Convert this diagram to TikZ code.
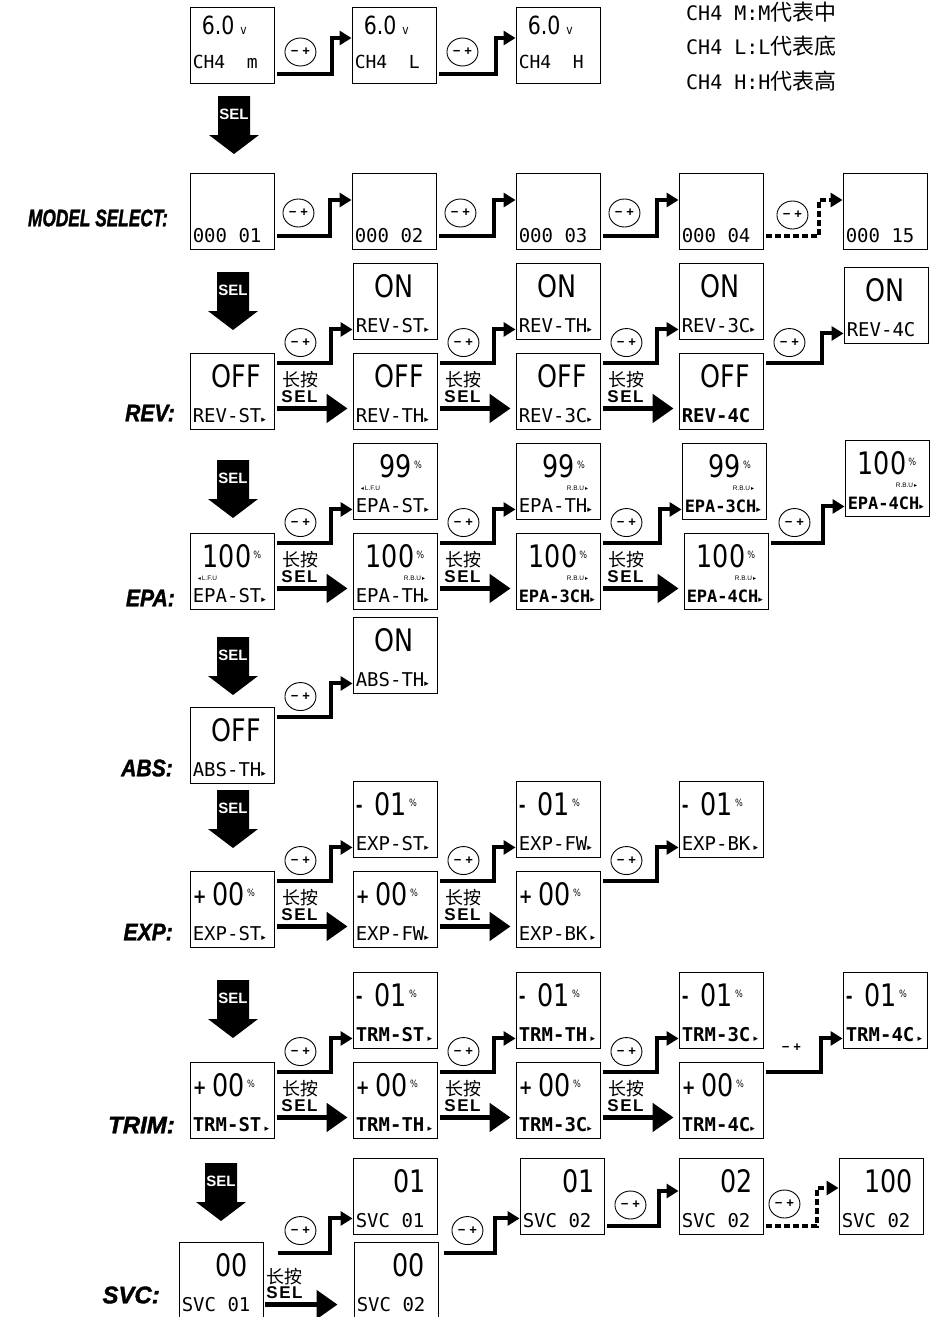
\documentclass[tikz,border=0pt]{standalone}
\usepackage{fontspec}
\setmainfont{Liberation Sans}
\newfontfamily\lcdfont[FakeStretch=0.82]{DejaVu Sans}
\newfontfamily\lcdmono{DejaVu Sans Mono}
\newfontfamily\cjk{Noto Sans CJK SC}
\newfontfamily\symf{DejaVu Sans}
\newfontfamily\lblfont[BoldItalicFeatures={FakeBold=1.6}]{Liberation Sans}
\usetikzlibrary{arrows.meta,calc,shapes.geometric}
\newcommand\rtri{{\symf\fontsize{9}{9}\selectfont▸}}
\newcommand\ltri{{\symf\fontsize{6}{6}\selectfont◂}}
\newcommand\pct{\kern2pt\raisebox{9pt}{\fontsize{10}{10}\selectfont\%}}
\newcommand\pmtxt{\textbf{−}\hspace{4pt}\textbf{+}}
\newcommand\boldlab[1]{{\bfseries\fontsize{17}{17}\selectfont #1}}
\newcommand\minusone{\makebox[19pt][l]{\bfseries\fontsize{20}{20}\selectfont\raisebox{3pt}{-}}01\pct}
\newcommand\plusnil{\makebox[20pt][l]{\bfseries\fontsize{20}{20}\selectfont\raisebox{2pt}{+}}00\pct}
\newcommand\lcdbox[4]{%
  \node[lcd] (#1) at #2 {};
  \node[lcdval] (#1-v) at ($(#1.north west)+(3,35)$) {#3};
  \node[lcdlab] (#1-l) at ($(#1.south west)+(3,-7)$) {#4};}
\tikzset{
  lcd/.style={draw, line width=0.9pt, minimum width=84pt, minimum height=76pt, inner sep=0pt},
  lcdval/.style={anchor=base west, inner sep=0pt, text width=80pt, align=left, font=\lcdfont\fontsize{31}{31}\selectfont},
  lcdlab/.style={anchor=base west, inner sep=0pt, font=\lcdmono\fontsize{19}{19}\selectfont},
  aux/.style={inner sep=0pt, font=\fontsize{6.5}{6.5}\selectfont},
  stepline/.style={line width=4pt, -{Triangle[length=12pt,width=14pt]}},
  dashline/.style={dash pattern=on 6pt off 3pt},
  lpline/.style={line width=5pt, -{Triangle[length=21pt,width=28pt]}},
  pmbtn/.style={ellipse, draw, line width=0.9pt, minimum width=31pt, minimum height=28pt, inner sep=0pt, fill=white, font=\fontsize{13}{13}\selectfont},
  lptxt/.style={inner sep=0pt, font=\cjk\fontsize{18}{18}\selectfont},
  lpsel/.style={inner sep=0pt, font=\bfseries\fontsize{17}{17}\selectfont},
  rowlbl/.style={anchor=east, inner sep=0pt, font=\lblfont\bfseries\itshape\fontsize{24}{24}\selectfont},
  legend/.style={anchor=base west, inner sep=0pt, font=\lcdmono\fontsize{20}{20}\selectfont},
  selbig/.style={inner sep=0pt, text=white, font=\lblfont\bfseries\fontsize{15}{15}\selectfont},
  pics/selarrow/.style={code={
    \fill (-16,0) -- (16,0) -- (16,39) -- (25,39) -- (0,58) -- (-25,39) -- (-16,39) -- cycle;
    \node[selbig] (-t) at (0,18) {SEL};
  }},
}
\begin{document}
\begin{tikzpicture}[x=1pt,y=-1pt]
\useasboundingbox (0,0) rectangle (935,1317);
% legend
\node[legend] (lg1) at (686,20) {CH4 M:M{\cjk\fontsize{22}{22}\selectfont 代表中}};
\node[legend] (lg2) at (686,54) {CH4 L:L{\cjk\fontsize{22}{22}\selectfont 代表底}};
\node[legend] (lg3) at (686,89) {CH4 H:H{\cjk\fontsize{22}{22}\selectfont 代表高}};
% row labels
\node[rowlbl, xscale=0.72] (l-model) at (168,218) {MODEL SELECT:};
\node[rowlbl, xscale=0.88] (l-rev) at (175,413) {REV:};
\node[rowlbl, xscale=0.88] (l-epa) at (175,598) {EPA:};
\node[rowlbl, xscale=0.88] (l-abs) at (173,768) {ABS:};
\node[rowlbl, xscale=0.88] (l-exp) at (173,932) {EXP:};
\node[rowlbl] (l-trim) at (175,1125) {TRIM:};
\node[rowlbl] (l-svc) at (160,1295) {SVC:};
%
% top row
\foreach \n/\x/\c in {ch1/232/m, ch2/394/L, ch3/558/H}{
  \node[lcd] (\n) at (\x,45) {};
  \node[lcdval, font=\lcdfont\fontsize{25}{25}\selectfont] (\n-v) at ($(\n.north west)+(3,28)$) {\hspace*{9pt}6.0\hspace{6pt}{\fontsize{13}{13}\selectfont v}};
  \node[lcdlab, font=\lcdmono\fontsize{18}{18}\selectfont] (\n-l) at ($(\n.south west)+(3,-15)$) {CH4\ \ \c};
}
% model select
\lcdbox{m1}{(232,211)}{}{000 01}
\lcdbox{m2}{(394,211)}{}{000 02}
\lcdbox{m3}{(558,211)}{}{000 03}
\lcdbox{m4}{(721,211)}{}{000 04}
\lcdbox{m5}{(885,211)}{}{000 15}
% rev
\lcdbox{rt2}{(395,301)}{\hspace*{19pt}ON}{REV-ST\rtri}
\lcdbox{rt3}{(558,301)}{\hspace*{19pt}ON}{REV-TH\rtri}
\lcdbox{rt4}{(721,301)}{\hspace*{19pt}ON}{REV-3C\rtri}
\lcdbox{rt5}{(886,305)}{\hspace*{19pt}ON}{REV-4C}
\lcdbox{r1}{(232,391)}{\hspace*{19pt}OFF}{REV-ST\rtri}
\lcdbox{r2}{(395,391)}{\hspace*{19pt}OFF}{REV-TH\rtri}
\lcdbox{r3}{(558,391)}{\hspace*{19pt}OFF}{REV-3C\rtri}
\lcdbox{r4}{(721,391)}{\hspace*{19pt}OFF}{\textbf{REV-4C}}
% epa
\lcdbox{et2}{(395,481)}{\hspace*{24pt}99\pct}{EPA-ST\rtri}
\lcdbox{et3}{(558,481)}{\hspace*{24pt}99\pct}{EPA-TH\rtri}
\lcdbox{et4}{(724,481)}{\hspace*{24pt}99\pct}{\boldlab{EPA-3CH}\rtri}
\lcdbox{et5}{(887,478)}{\hspace*{10pt}100\pct}{\boldlab{EPA-4CH}\rtri}
\lcdbox{e1}{(232,571)}{\hspace*{10pt}100\pct}{EPA-ST\rtri}
\lcdbox{e2}{(395,571)}{\hspace*{10pt}100\pct}{EPA-TH\rtri}
\lcdbox{e3}{(558,571)}{\hspace*{10pt}100\pct}{\boldlab{EPA-3CH}\rtri}
\lcdbox{e4}{(726,571)}{\hspace*{10pt}100\pct}{\boldlab{EPA-4CH}\rtri}
\foreach \n in {e1, et2}
  \node[aux, anchor=west] (\n-a) at ($(\n.north west)+(8,46)$) {\ltri\,L.F.U};
\foreach \n in {e2, e3, e4, et3, et4, et5}
  \node[aux, anchor=east] (\n-a) at ($(\n.north east)+(-12,46)$) {R.B.U\,{\symf\fontsize{6}{6}\selectfont▸}};
% abs
\lcdbox{at2}{(395,655)}{\hspace*{19pt}ON}{ABS-TH\rtri}
\lcdbox{a1}{(232,745)}{\hspace*{19pt}OFF}{ABS-TH\rtri}
% exp
\lcdbox{xt2}{(395,819)}{\minusone}{EXP-ST\rtri}
\lcdbox{xt3}{(558,819)}{\minusone}{EXP-FW\rtri}
\lcdbox{xt4}{(721,819)}{\minusone}{EXP-BK\,\rtri}
\lcdbox{x1}{(232,909)}{\plusnil}{EXP-ST\rtri}
\lcdbox{x2}{(395,909)}{\plusnil}{EXP-FW\rtri}
\lcdbox{x3}{(558,909)}{\plusnil}{EXP-BK\,\rtri}
% trim
\lcdbox{tt2}{(395,1010)}{\minusone}{\textbf{TRM-ST}\,\rtri}
\lcdbox{tt3}{(558,1010)}{\minusone}{\textbf{TRM-TH}\,\rtri}
\lcdbox{tt4}{(721,1010)}{\minusone}{\textbf{TRM-3C}\,\rtri}
\lcdbox{tt5}{(885,1010)}{\minusone}{\textbf{TRM-4C}\,\rtri}
\lcdbox{t1}{(232,1100)}{\plusnil}{\textbf{TRM-ST}\,\rtri}
\lcdbox{t2}{(395,1100)}{\plusnil}{\textbf{TRM-TH}\,\rtri}
\lcdbox{t3}{(558,1100)}{\plusnil}{\textbf{TRM-3C}\rtri}
\lcdbox{t4}{(721,1100)}{\plusnil}{\textbf{TRM-4C}\rtri}
% svc
\lcdbox{st2}{(395,1196)}{\hfill 01\kern10pt}{SVC 01}
\lcdbox{st3}{(562,1196)}{\hfill 01\kern8pt}{SVC 02}
\lcdbox{st4}{(721,1196)}{\hfill 02\kern9pt}{SVC 02}
\lcdbox{st5}{(881,1196)}{\hfill 100\kern9pt}{SVC 02}
\lcdbox{s1}{(221,1280)}{\hfill 00\kern14pt}{SVC 01}
\lcdbox{s2}{(396,1280)}{\hfill 00\kern12pt}{SVC 02}
%
% SEL arrows down
\pic (sel1) at (234,96) {selarrow};
\pic (sel2) at (233,272) {selarrow};
\pic (sel3) at (233,460) {selarrow};
\pic (sel4) at (233,637) {selarrow};
\pic (sel5) at (233,790) {selarrow};
\pic (sel6) at (233,980) {selarrow};
\pic (sel7) at (221,1163) {selarrow};
%
% -/+ steps
\foreach \a/\b in {ch1/ch2, ch2/ch3}{
  \draw[stepline] ($(\a.south east)+(3,-9)$) -| ($(\b.west)+(-20,-7)$) -- ($(\b.west)+(0,-7)$);
  \node[pmbtn] (p-\a) at ($(\a.east)+(26,7)$) {\pmtxt};
}
\foreach \a/\b in {m1/m2, m2/m3, m3/m4}{
  \draw[stepline] ($(\a.south east)+(3,-13)$) -| ($(\b.west)+(-22,-11)$) -- ($(\b.west)+(0,-11)$);
  \node[pmbtn] (p-\a) at ($(\a.east)+(24,2)$) {\pmtxt};
}
\draw[stepline, dashline] ($(m4.south east)+(3,-13)$) -| ($(m5.west)+(-24,-11)$) -- ($(m5.west)+(0,-11)$);
\node[pmbtn] (p-m4) at ($(m4.east)+(29,4)$) {\pmtxt};
\foreach \a/\b in {r1/rt2, r2/rt3, r3/rt4, r4/rt5, e1/et2, e2/et3, e3/et4, e4/et5, a1/at2, x1/xt2, x2/xt3, x3/xt4, t1/tt2, t2/tt3, t3/tt4, t4/tt5}{
  \draw[stepline] ($(\a.north east)+(3,10)$) -| ($(\b.south west)+(-22,-10)$) -- ($(\b.south west)+(0,-10)$);
}
\foreach \a in {r1, r2, r3, r4, e1, e2, e3, e4, a1, x1, x2, x3, t1, t2, t3}
  \node[pmbtn] (p-\a) at ($(\a.north east)+(26,-10)$) {\pmtxt};
\node[inner sep=0pt, font=\fontsize{13}{13}\selectfont] (p-t4) at ($(t4.north east)+(28,-14)$) {\pmtxt};
\draw[stepline] ($(s1.north east)+(15,11)$) -| ($(st2.south west)+(-23,-16)$) -- ($(st2.south west)+(0,-16)$);
\node[pmbtn] (p-s1) at ($(s1.north east)+(37,-11)$) {\pmtxt};
\draw[stepline] ($(s2.north east)+(6,11)$) -| ($(st3.south west)+(-25,-16)$) -- ($(st3.south west)+(0,-16)$);
\node[pmbtn] (p-s2) at ($(s2.north east)+(29,-11)$) {\pmtxt};
\draw[stepline] ($(st3.south east)+(3,-8)$) -| ($(st4.west)+(-20,-5)$) -- ($(st4.west)+(0,-5)$);
\node[pmbtn] (p-st3) at ($(st3.east)+(26,9)$) {\pmtxt};
\draw[stepline, dashline] ($(st4.south east)+(3,-8)$) -| ($(st5.west)+(-22,-8)$) -- ($(st5.west)+(0,-8)$);
\node[pmbtn] (p-st4) at ($(st4.east)+(21,8)$) {\pmtxt};
%
% long press SEL
\foreach \a/\b in {r1/r2, r2/r3, r3/r4, e1/e2, e2/e3, e3/e4, x1/x2, x2/x3, t1/t2, t2/t3, t3/t4}{
  \draw[lpline] ($(\a.south east)+(3,-21)$) -- ($(\b.south west)+(-5,-21)$);
  \node[lptxt] (h-\a) at ($(\a.north east)+(26,27)$) {长按};
  \node[lpsel] (k-\a) at ($(\a.north east)+(25,44)$) {S\kern1.5pt E\kern1.5pt L};
}
\draw[lpline] ($(s1.north east)+(2,63)$) -- ($(s2.north west)+(-16,63)$);
\node[lptxt] (h-s1) at ($(s1.north east)+(21,35)$) {长按};
\node[lpsel] (k-s1) at ($(s1.north east)+(21,51)$) {S\kern1.5pt E\kern1.5pt L};
\end{tikzpicture}
\end{document}
